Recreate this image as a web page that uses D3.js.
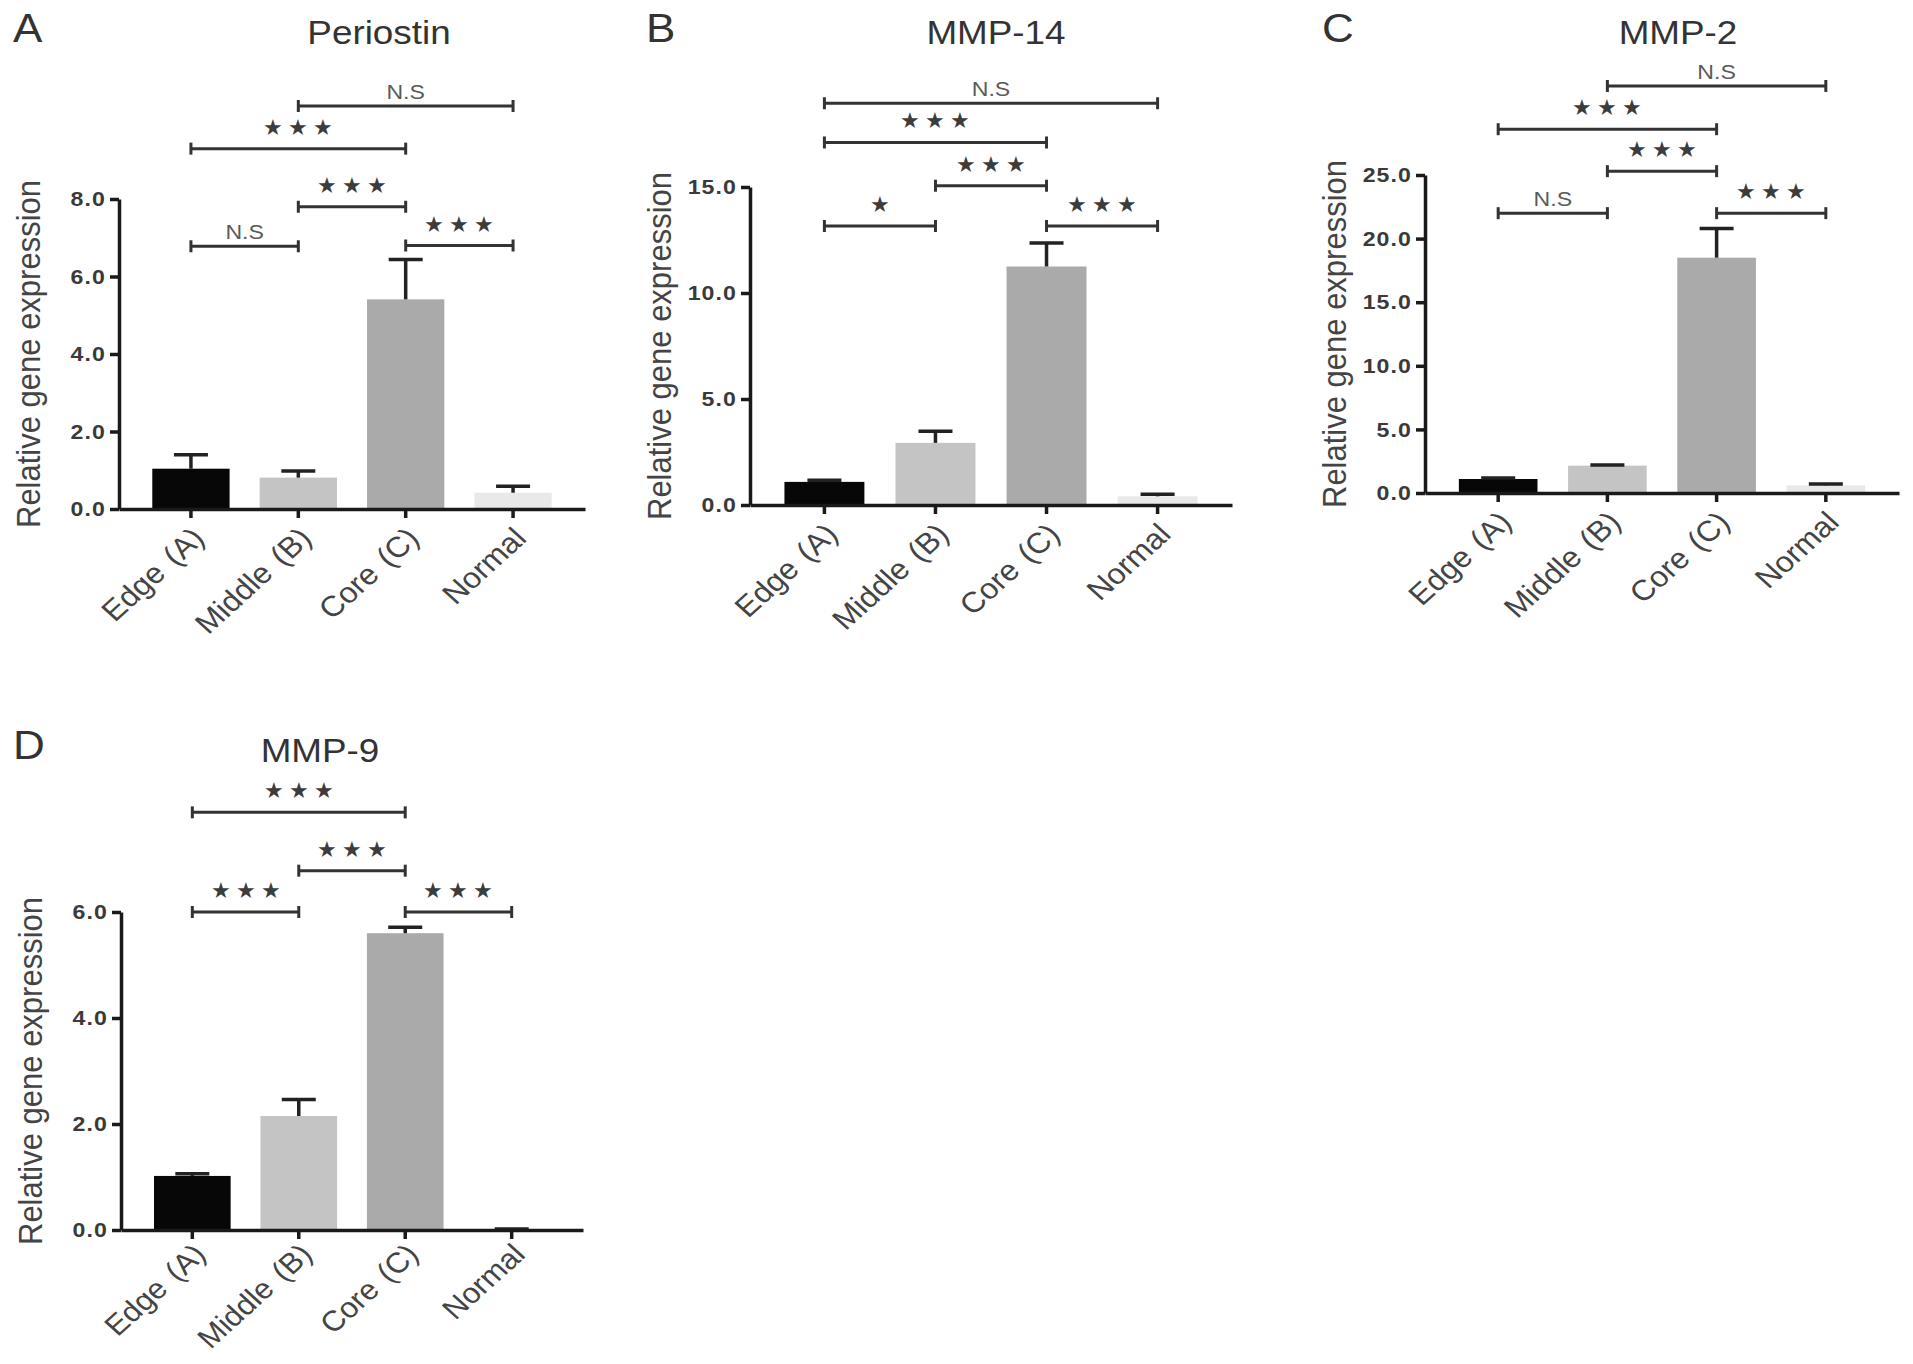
<!DOCTYPE html>
<html>
<head>
<meta charset="utf-8">
<title>Relative gene expression</title>
<script src="https://d3js.org/d3.v7.min.js"></script>
<style>
  body { margin: 0; background: #fff; }
  text { font-family: "Liberation Sans", Arial, sans-serif; }
</style>
</head>
<body>
<script>
// values (mean and upper error)
var categories = ["Edge (A)", "Middle (B)", "Core (C)", "Normal"];

var periostinMean  = [1.04, 0.81, 5.41, 0.42];
var periostinErr   = [0.36, 0.17, 1.03, 0.17];
var periostinTicks = [0, 2, 4, 6, 8];
// [from, to, label, height in data units]
var periostinSig = [[0, 1, "N.S", 6.78], [1, 2, "***", 7.8], [2, 3, "***", 6.80], [0, 2, "***", 9.3], [1, 3, "N.S", 10.4]];

var mmp14Mean  = [1.09, 2.93, 11.25, 0.41];
var mmp14Err   = [0.08, 0.55, 1.11, 0.10];
var mmp14Ticks = [0, 5, 10, 15];
var mmp14Sig = [[0, 1, "*", 13.16], [1, 2, "***", 15.06], [2, 3, "***", 13.16], [0, 2, "***", 17.1], [0, 3, "N.S", 18.95]];

var mmp2Mean  = [1.1, 2.15, 18.5, 0.6];
var mmp2Err   = [0.07, 0.05, 2.3, 0.1];
var mmp2Ticks = [0, 5, 10, 15, 20, 25];
var mmp2Sig = [[0, 1, "N.S", 22.0], [1, 2, "***", 25.3], [2, 3, "***", 22.0], [0, 2, "***", 28.6], [1, 3, "N.S", 32.0]];

var mmp9Mean  = [1.02, 2.15, 5.6, 0.01];
var mmp9Err   = [0.04, 0.31, 0.11, 0.01];
var mmp9Ticks = [0, 2, 4, 6];
var mmp9Sig = [[0, 1, "***", 6.0], [1, 2, "***", 6.78], [2, 3, "***", 6.0], [0, 2, "***", 7.88]];

var barColors = ["#070707", "#c4c4c4", "#aaaaaa", "#e9e9e9"];

// the original figure is a little wider than tall, so the type is too
var sx = 1.1;

// panel frames (axis origin, size) and label spots
var panels = [
  {letter: "A", title: "Periostin", mean: periostinMean, err: periostinErr, ticks: periostinTicks, sig: periostinSig,
   x: 119, top: 199, w: 466, h: 310, lx: 13, ly: 42, tx: 379, ty: 44, xlDy: 31, xlSize: 29},
  {letter: "B", title: "MMP-14", mean: mmp14Mean, err: mmp14Err, ticks: mmp14Ticks, sig: mmp14Sig,
   x: 750, top: 187, w: 482, h: 318, lx: 646, ly: 42, tx: 996, ty: 44, xlDy: 31, xlSize: 29},
  {letter: "C", title: "MMP-2", mean: mmp2Mean, err: mmp2Err, ticks: mmp2Ticks, sig: mmp2Sig,
   x: 1425, top: 175, w: 474, h: 318, lx: 1322, ly: 42, tx: 1678, ty: 44, xlDy: 31, xlSize: 29},
  {letter: "D", title: "MMP-9", mean: mmp9Mean, err: mmp9Err, ticks: mmp9Ticks, sig: mmp9Sig,
   x: 121, top: 912, w: 462, h: 318, lx: 13, ly: 759, tx: 320, ty: 762, xlDy: 26, xlSize: 28.5}
];

var svg = d3.select("body").append("svg")
  .attr("width", 1913).attr("height", 1364);

function at(x, y) { return "translate(" + x + "," + y + ") scale(" + sx + ",1)"; }

panels.forEach(drawPanel);

function drawPanel(p) {
  var g = svg.append("g");
  var x = d3.scaleBand().domain(categories)
    .range([p.x, p.x + p.w]).paddingInner(0.28).paddingOuter(0.31);
  var y = d3.scaleLinear().domain([0, d3.max(p.ticks)]).range([p.top + p.h, p.top]);
  var cx = function(i) { return x(categories[i]) + x.bandwidth() / 2; };

  // bars
  g.selectAll("rect.bar").data(p.mean).join("rect")
    .attr("class", "bar")
    .attr("x", function(d, i) { return x(categories[i]); })
    .attr("width", x.bandwidth())
    .attr("y", function(d) { return y(d); })
    .attr("height", function(d) { return y(0) - y(d); })
    .attr("fill", function(d, i) { return barColors[i]; });

  // upper error bars
  var eb = g.selectAll("g.err").data(p.mean).join("g").attr("class", "err")
    .attr("stroke", "#222").attr("stroke-width", 3.5);
  eb.append("line")
    .attr("x1", function(d, i) { return cx(i); }).attr("x2", function(d, i) { return cx(i); })
    .attr("y1", function(d) { return y(d); })
    .attr("y2", function(d, i) { return y(d + p.err[i]); });
  eb.append("line")
    .attr("x1", function(d, i) { return cx(i) - 17; }).attr("x2", function(d, i) { return cx(i) + 17; })
    .attr("y1", function(d, i) { return y(d + p.err[i]); })
    .attr("y2", function(d, i) { return y(d + p.err[i]); });

  // axes
  var yAxis = d3.axisLeft(y).tickValues(p.ticks).tickFormat(d3.format(".1f"))
    .tickSize(9).tickSizeOuter(0).tickPadding(4);
  var ya = g.append("g").attr("transform", "translate(" + p.x + ",0)").call(yAxis);
  ya.selectAll("text")
    .attr("x", -13 / sx).attr("transform", "scale(" + sx + ",1)")
    .attr("font-size", 21).attr("font-weight", "bold")
    .attr("fill", "#3a3a3a").attr("letter-spacing", 1)
    .attr("font-family", "Liberation Sans, Arial, sans-serif");

  var xAxis = d3.axisBottom(x).tickSize(9).tickSizeOuter(0).tickFormat("");
  g.append("g").attr("transform", "translate(0," + y(0) + ")").call(xAxis);

  g.selectAll(".domain, .tick line").attr("stroke", "#1a1a1a").attr("stroke-width", 3.5);

  // x labels, rotated
  g.selectAll("text.xl").data(categories).join("text")
    .attr("class", "xl")
    .attr("transform", function(d, i) { return at(cx(i) + 15, y(0) + p.xlDy) + " rotate(-45)"; })
    .attr("text-anchor", "end")
    .attr("font-size", p.xlSize).attr("fill", "#444")
    .attr("word-spacing", 3)
    .text(function(d) { return d; });

  // y label
  g.append("text")
    .attr("transform", at(p.x - 79, p.top + p.h / 2) + " rotate(-90)")
    .attr("text-anchor", "middle")
    .attr("font-size", 31).attr("fill", "#444")
    .text("Relative gene expression");

  // panel letter and title
  g.append("text").attr("transform", at(p.lx, p.ly))
    .attr("font-size", 40).attr("fill", "#333").text(p.letter);
  g.append("text").attr("transform", at(p.tx, p.ty))
    .attr("text-anchor", "middle").attr("font-size", 33.5).attr("fill", "#333").text(p.title);

  // significance brackets
  p.sig.forEach(function(s) {
    var x1 = cx(s[0]), x2 = cx(s[1]), yy = y(s[3]);
    var b = g.append("g").attr("stroke", "#333").attr("stroke-width", 3);
    b.append("line").attr("x1", x1).attr("x2", x2).attr("y1", yy).attr("y2", yy);
    b.append("line").attr("x1", x1).attr("x2", x1).attr("y1", yy - 6).attr("y2", yy + 6);
    b.append("line").attr("x1", x2).attr("x2", x2).attr("y1", yy - 6).attr("y2", yy + 6);
    var mid = (x1 + x2) / 2;
    if (s[2].indexOf("*") === 0) {
      var n = s[2].length;
      d3.range(n).forEach(function(k) {
        g.append("text").attr("x", mid + (k - (n - 1) / 2) * 25).attr("y", yy - 14)
          .attr("text-anchor", "middle").attr("font-size", 22).attr("fill", "#3c3c3c")
          .attr("font-family", "DejaVu Sans, sans-serif")
          .text("\u2605");
      });
    } else {
      g.append("text").attr("transform", at(mid, yy - 7))
        .attr("text-anchor", "middle").attr("font-size", 21).attr("fill", "#5a5a5a")
        .text(s[2]);
    }
  });
}
</script>
</body>
</html>
